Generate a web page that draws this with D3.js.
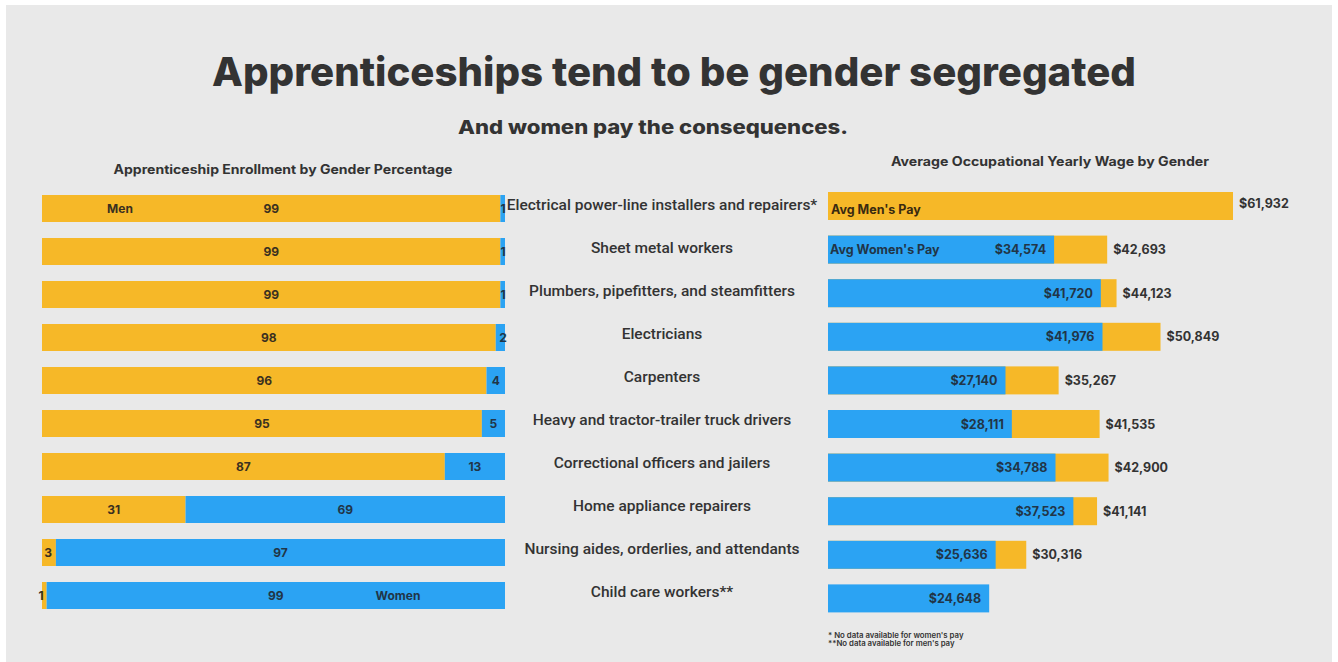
<!DOCTYPE html>
<html>
<head>
<meta charset="utf-8">
<script src="https://cdn.jsdelivr.net/npm/d3@7"></script>
<style>
  html, body { margin: 0; padding: 0; background: #fff; }
  svg { display: block; }
</style>
</head>
<body>
<svg id="chart" width="1338" height="662"></svg>
<script>
const categories = [
  "Electrical power-line installers and repairers*",
  "Sheet metal workers",
  "Plumbers, pipefitters, and steamfitters",
  "Electricians",
  "Carpenters",
  "Heavy and tractor-trailer truck drivers",
  "Correctional officers and jailers",
  "Home appliance repairers",
  "Nursing aides, orderlies, and attendants",
  "Child care workers**",
];
const menPct = [99, 99, 99, 98, 96, 95, 87, 31, 3, 1];
const womenPct = [1, 1, 1, 2, 4, 5, 13, 69, 97, 99];
const menPay = [61932, 42693, 44123, 50849, 35267, 41535, 42900, 41141, 30316, null];
const womenPay = [null, 34574, 41720, 41976, 27140, 28111, 34788, 37523, 25636, 24648];

const YELLOW = "#f6b828";
const BLUE = "#2ba3f3";
const DARK = "#333333";
const NAVY = "#213547";
const FONT = "Inter, 'Noto Sans', sans-serif";

const width = 1338,
  height = 662;
const svg = d3.select("#chart");

svg
  .append("rect")
  .attr("x", 6)
  .attr("y", 5)
  .attr("width", width - 12)
  .attr("height", height - 5)
  .attr("fill", "#e9e9e9");

// titles
svg
  .append("text")
  .attr("x", 674)
  .attr("y", 86)
  .attr("text-anchor", "middle")
  .attr("font-family", FONT)
  .attr("font-weight", 800)
  .attr("font-size", 40)
  .attr("fill", DARK)
  .attr("textLength", 924)
  .attr("lengthAdjust", "spacingAndGlyphs")
  .text("Apprenticeships tend to be gender segregated");

svg
  .append("text")
  .attr("x", 653)
  .attr("y", 134)
  .attr("text-anchor", "middle")
  .attr("font-family", FONT)
  .attr("font-weight", 800)
  .attr("font-size", 19)
  .attr("fill", DARK)
  .attr("textLength", 390)
  .attr("lengthAdjust", "spacingAndGlyphs")
  .text("And women pay the consequences.");

svg
  .append("text")
  .attr("x", 283)
  .attr("y", 174)
  .attr("text-anchor", "middle")
  .attr("font-family", FONT)
  .attr("font-weight", 700)
  .attr("font-size", 12.5)
  .attr("fill", DARK)
  .attr("textLength", 339)
  .attr("lengthAdjust", "spacingAndGlyphs")
  .text("Apprenticeship Enrollment by Gender Percentage");

svg
  .append("text")
  .attr("x", 1050)
  .attr("y", 166)
  .attr("text-anchor", "middle")
  .attr("font-family", FONT)
  .attr("font-weight", 700)
  .attr("font-size", 12.5)
  .attr("fill", DARK)
  .attr("textLength", 318)
  .attr("lengthAdjust", "spacingAndGlyphs")
  .text("Average Occupational Yearly Wage by Gender");

// ---- left: enrollment percentage ----
const xPct = d3.scaleLinear().domain([0, 100]).range([42, 505]);
const yLeft = d3
  .scaleBand()
  .domain(categories)
  .range([195, 195 + 43 * 10 - 16])
  .paddingInner(16 / 43);

const left = svg.append("g");
const rows = categories.map((c, i) => ({ c, men: menPct[i], women: womenPct[i] }));

left
  .selectAll("rect.men")
  .data(rows)
  .join("rect")
  .attr("class", "men")
  .attr("x", xPct(0))
  .attr("y", (d) => yLeft(d.c))
  .attr("width", (d) => xPct(d.men) - xPct(0))
  .attr("height", yLeft.bandwidth())
  .attr("fill", YELLOW);

left
  .selectAll("rect.women")
  .data(rows)
  .join("rect")
  .attr("class", "women")
  .attr("x", (d) => xPct(d.men))
  .attr("y", (d) => yLeft(d.c))
  .attr("width", (d) => xPct(100) - xPct(d.men))
  .attr("height", yLeft.bandwidth())
  .attr("fill", BLUE);

const pctLabel = (sel) =>
  sel
    .attr("font-family", FONT)
    .attr("font-weight", 700)
    .attr("font-size", 12)
    .attr("dominant-baseline", "central")
    .attr("text-anchor", "middle");

left
  .selectAll("text.men")
  .data(rows)
  .join("text")
  .attr("class", "men")
  .call(pctLabel)
  .attr("x", (d) =>
    d.men <= 1 ? xPct(0) - 1 : d.men <= 3 ? xPct(0) + 6 : (xPct(0) + xPct(d.men)) / 2
  )
  .attr("y", (d) => yLeft(d.c) + yLeft.bandwidth() / 2)
  .attr("fill", "#3a3020")
  .text((d) => d.men);

left
  .selectAll("text.women")
  .data(rows)
  .join("text")
  .attr("class", "women")
  .call(pctLabel)
  .attr("x", (d) =>
    d.women <= 2 ? xPct(100) - 2 : (xPct(d.men) + xPct(100)) / 2
  )
  .attr("y", (d) => yLeft(d.c) + yLeft.bandwidth() / 2)
  .attr("fill", NAVY)
  .text((d) => d.women);

left
  .append("text")
  .call(pctLabel)
  .attr("x", 120)
  .attr("y", yLeft(categories[0]) + yLeft.bandwidth() / 2)
  .attr("fill", "#3a3020")
  .text("Men");

left
  .append("text")
  .call(pctLabel)
  .attr("x", 398)
  .attr("y", yLeft(categories[9]) + yLeft.bandwidth() / 2)
  .attr("fill", NAVY)
  .text("Women");

// ---- center: occupation labels ----
svg
  .append("g")
  .selectAll("text")
  .data(categories)
  .join("text")
  .attr("x", 662)
  .attr("y", (d) => yLeft(d) + yLeft.bandwidth() / 2 - 4)
  .attr("dominant-baseline", "central")
  .attr("text-anchor", "middle")
  .attr("font-family", "Roboto, sans-serif")
  .attr("font-weight", 500)
  .attr("font-size", 15.5)
  .attr("fill", DARK)
  .text((d) => d);

// ---- right: wages ----
const xPay = d3.scaleLinear().domain([0, 61932]).range([828, 1233]);
const yRight = d3
  .scaleBand()
  .domain(categories)
  .range([192, 192 + 43.6 * 10 - 15.6])
  .paddingInner(15.6 / 43.6);

const right = svg.append("g");
const payRows = categories.map((c, i) => ({ c, men: menPay[i], women: womenPay[i] }));
const fmt = (v) => "$" + d3.format(",")(v);

right
  .selectAll("rect.men")
  .data(payRows.filter((d) => d.men != null))
  .join("rect")
  .attr("class", "men")
  .attr("x", xPay(0))
  .attr("y", (d) => yRight(d.c))
  .attr("width", (d) => xPay(d.men) - xPay(0))
  .attr("height", yRight.bandwidth())
  .attr("fill", YELLOW);

right
  .selectAll("rect.women")
  .data(payRows.filter((d) => d.women != null))
  .join("rect")
  .attr("class", "women")
  .attr("x", xPay(0))
  .attr("y", (d) => yRight(d.c))
  .attr("width", (d) => xPay(d.women) - xPay(0))
  .attr("height", yRight.bandwidth())
  .attr("fill", BLUE);

const payLabel = (sel) =>
  sel
    .attr("font-family", FONT)
    .attr("font-weight", 700)
    .attr("font-size", 12.5)
    .attr("dominant-baseline", "central");

right
  .selectAll("text.men")
  .data(payRows.filter((d) => d.men != null))
  .join("text")
  .attr("class", "men")
  .call(payLabel)
  .attr("x", (d) => xPay(d.men) + 6)
  .attr("y", (d, i) => yRight(d.c) + yRight.bandwidth() / 2 - (i === 0 ? 3 : 0))
  .attr("fill", DARK)
  .text((d) => fmt(d.men));

right
  .selectAll("text.women")
  .data(payRows.filter((d) => d.women != null))
  .join("text")
  .attr("class", "women")
  .call(payLabel)
  .attr("text-anchor", "end")
  .attr("x", (d) => xPay(d.women) - 8)
  .attr("y", (d) => yRight(d.c) + yRight.bandwidth() / 2)
  .attr("fill", NAVY)
  .text((d) => fmt(d.women));

right
  .append("text")
  .call(payLabel)
  .attr("x", 831)
  .attr("y", yRight(categories[0]) + yRight.bandwidth() / 2 + 3)
  .attr("fill", "#3a2a10")
  .text("Avg Men's Pay");

right
  .append("text")
  .call(payLabel)
  .attr("x", 830)
  .attr("y", yRight(categories[1]) + yRight.bandwidth() / 2)
  .attr("fill", NAVY)
  .text("Avg Women's Pay");

// footnotes
const notes = ["* No data available  for women's pay", "**No data available for men's pay"];
svg
  .append("g")
  .selectAll("text")
  .data(notes)
  .join("text")
  .attr("x", 828)
  .attr("y", (d, i) => 638 + i * 8)
  .attr("font-family", FONT)
  .attr("font-weight", 600)
  .attr("font-size", 7.8)
  .attr("fill", DARK)
  .text((d) => d);
</script>
</body>
</html>
